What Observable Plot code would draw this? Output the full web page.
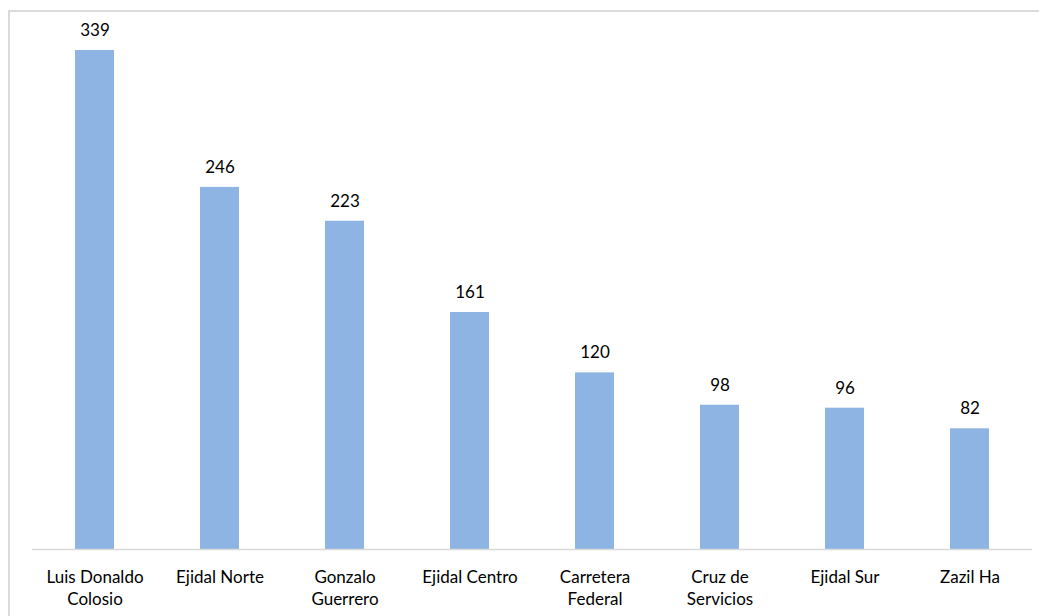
<!DOCTYPE html>
<html>
<head>
<meta charset="utf-8">
<script src="https://cdn.jsdelivr.net/npm/d3@7"></script>
<script src="https://cdn.jsdelivr.net/npm/@observablehq/plot@0.6"></script>
<style>
  html, body { margin: 0; padding: 0; background: #fff; overflow: hidden; }
  #wrap { position: relative; width: 1039px; height: 616px; }
  #border { position: absolute; left: 8px; top: 10px; width: 1100px; height: 700px;
            border: 2px solid #dadada; box-sizing: border-box; pointer-events: none; }
</style>
</head>
<body>
<div id="wrap"><div id="border"></div></div>
<script>
const categories = ["Luis Donaldo Colosio", "Ejidal Norte", "Gonzalo Guerrero", "Ejidal Centro",
                    "Carretera Federal", "Cruz de Servicios", "Ejidal Sur", "Zazil Ha"];
const tickLabels = ["Luis Donaldo\nColosio", "Ejidal Norte", "Gonzalo\nGuerrero", "Ejidal Centro",
                    "Carretera\nFederal", "Cruz de\nServicios", "Ejidal Sur", "Zazil Ha"];
const values = [339, 246, 223, 161, 120, 98, 96, 82];

const data = categories.map((c, i) => ({category: c, value: values[i]}));
const labelOf = new Map(categories.map((c, i) => [c, tickLabels[i]]));

const chart = Plot.plot({
  width: 1039,
  height: 616,
  marginLeft: 32,
  marginRight: 7,
  marginTop: 50,
  marginBottom: 67,
  style: {fontFamily: "Lato, 'Open Sans', sans-serif", fontSize: "17px", color: "#000", background: "transparent"},
  x: {domain: categories, paddingInner: 0.69, paddingOuter: 0.345, label: null},
  y: {domain: [0, 339], axis: null},
  marks: [
    Plot.barY(data, {x: "category", y: "value", fill: "#8EB4E3"}),
    Plot.ruleY([0], {stroke: "#d9d9d9", strokeWidth: 1.5}),
    Plot.text(data, {x: "category", y: "value", text: d => String(d.value), dy: -20, fontSize: 17, fill: "#000"}),
    Plot.axisX({tickSize: 0, tickPadding: 18, fontSize: 17, lineHeight: 1.3, tickFormat: d => labelOf.get(d), fill: "#000"})
  ]
});
chart.style.position = "absolute";
chart.style.left = "0";
chart.style.top = "0";
document.getElementById("wrap").appendChild(chart);
</script>
</body>
</html>
